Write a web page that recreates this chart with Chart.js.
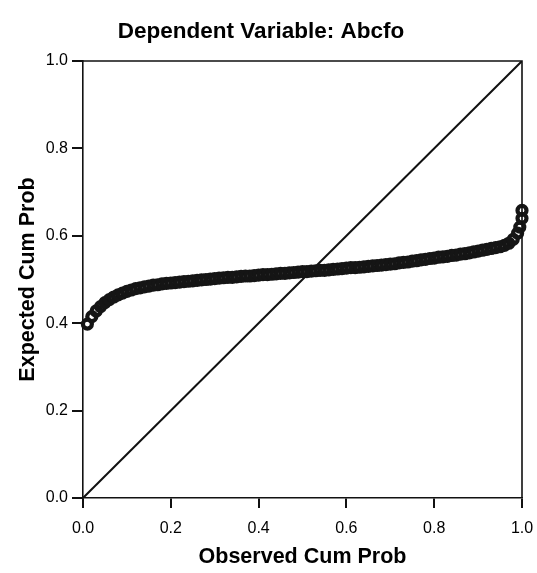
<!DOCTYPE html>
<html>
<head>
<meta charset="utf-8">
<script src="https://cdn.jsdelivr.net/npm/chart.js@4.4.1/dist/chart.umd.min.js"></script>
<style>
  html, body { margin: 0; padding: 0; background: #ffffff; }
  #wrap { width: 537px; height: 573px; }
</style>
</head>
<body>
<div id="wrap"><canvas id="c" width="537" height="573"></canvas></div>
<script>
// ---- data (P-P plot) ----
const chartTitle = 'Dependent Variable: Abcfo';
const xAxisTitle = 'Observed Cum Prob';
const yAxisTitle = 'Expected Cum Prob';
const xTickLabels = ['0.0', '0.2', '0.4', '0.6', '0.8', '1.0'];
const yTickLabels = ['0.0', '0.2', '0.4', '0.6', '0.8', '1.0'];

const observed = [
  0.01, 0.02, 0.03, 0.04, 0.05, 0.06, 0.07, 0.08, 0.09, 0.10,
  0.11, 0.12, 0.13, 0.14, 0.15, 0.16, 0.17, 0.18, 0.19, 0.20,
  0.21, 0.22, 0.23, 0.24, 0.25, 0.26, 0.27, 0.28, 0.29, 0.30,
  0.31, 0.32, 0.33, 0.34, 0.35, 0.36, 0.37, 0.38, 0.39, 0.40,
  0.41, 0.42, 0.43, 0.44, 0.45, 0.46, 0.47, 0.48, 0.49, 0.50,
  0.51, 0.52, 0.53, 0.54, 0.55, 0.56, 0.57, 0.58, 0.59, 0.60,
  0.61, 0.62, 0.63, 0.64, 0.65, 0.66, 0.67, 0.68, 0.69, 0.70,
  0.71, 0.72, 0.73, 0.74, 0.75, 0.76, 0.77, 0.78, 0.79, 0.80,
  0.81, 0.82, 0.83, 0.84, 0.85, 0.86, 0.87, 0.88, 0.89, 0.90,
  0.91, 0.92, 0.93, 0.94, 0.95, 0.96, 0.97, 0.98, 0.99, 0.995,
  1.00, 1.00
];
const expected = [
  0.398, 0.415, 0.428, 0.438, 0.447, 0.454, 0.460, 0.465, 0.469, 0.473,
  0.476, 0.479, 0.481, 0.483, 0.485, 0.487, 0.488, 0.490, 0.491, 0.492,
  0.493, 0.494, 0.495, 0.496, 0.497, 0.498, 0.499, 0.500, 0.501, 0.502,
  0.503, 0.504, 0.505, 0.505, 0.506, 0.507, 0.508, 0.508, 0.509, 0.510,
  0.511, 0.511, 0.512, 0.513, 0.514, 0.514, 0.515, 0.516, 0.517, 0.518,
  0.518, 0.519, 0.520, 0.521, 0.521, 0.522, 0.523, 0.524, 0.525, 0.526,
  0.527, 0.527, 0.528, 0.529, 0.530, 0.531, 0.532, 0.533, 0.534, 0.535,
  0.536, 0.538, 0.539, 0.540, 0.542, 0.543, 0.545, 0.546, 0.548, 0.549,
  0.551, 0.552, 0.553, 0.555, 0.556, 0.558, 0.559, 0.561, 0.563, 0.565,
  0.567, 0.569, 0.571, 0.573, 0.575, 0.578, 0.583, 0.592, 0.606, 0.620,
  0.640, 0.658
];
// reference diagonal (expected = observed)
const diagX = [0, 1];
const diagY = [0, 1];

// ---- build datasets ----
const points = observed.map((x, i) => ({ x: x, y: expected[i] }));
const diag = diagX.map((x, i) => ({ x: x, y: diagY[i] }));

const frame = {
  id: 'frame',
  afterDraw(chart) {
    const a = chart.chartArea, ctx = chart.ctx;
    ctx.save();
    ctx.strokeStyle = '#111';
    ctx.lineWidth = 1.6;
    ctx.beginPath();
    ctx.moveTo(a.left, a.top);
    ctx.lineTo(a.right, a.top);
    ctx.lineTo(a.right, a.bottom);
    ctx.stroke();
    ctx.restore();
  }
};

const bold = { family: "'Liberation Sans', Arial, sans-serif", weight: 'bold' };

new Chart(document.getElementById('c'), {
  type: 'scatter',
  data: {
    datasets: [
      {
        type: 'line',
        data: diag,
        borderColor: '#111',
        borderWidth: 2,
        pointRadius: 0,
        fill: false,
        tension: 0,
        order: 2
      },
      {
        data: points,
        pointStyle: 'circle',
        pointRadius: 4.5,
        pointBorderWidth: 4.2,
        pointBackgroundColor: 'rgba(0,0,0,0)',
        pointBorderColor: '#151515',
        clip: false,
        order: 1
      }
    ]
  },
  options: {
    responsive: false,
    devicePixelRatio: 1,
    animation: false,
    events: [],
    layout: { padding: { left: 0, right: 15, top: 0, bottom: 0 } },
    plugins: {
      legend: { display: false },
      tooltip: { enabled: false },
      title: {
        display: true,
        text: chartTitle,
        color: '#000',
        font: Object.assign({ size: 22.5, lineHeight: 1.2 }, bold),
        padding: { top: 18, bottom: 16 }
      }
    },
    scales: {
      x: {
        type: 'linear',
        min: 0, max: 1,
        afterFit(s) { s.height = 75; s.paddingLeft = 0; s.paddingRight = 0; },
        ticks: {
          stepSize: 0.2,
          color: '#000',
          padding: 11,
          font: { family: "'Liberation Sans', Arial, sans-serif", size: 16, lineHeight: 1.2 },
          callback: (v) => xTickLabels[Math.round(v * 5)]
        },
        grid: { display: true, drawOnChartArea: false, drawTicks: true, tickLength: 10, color: '#111', lineWidth: 2 },
        border: { display: true, color: '#111', width: 1.6 },
        title: {
          display: true, text: xAxisTitle, color: '#000',
          font: Object.assign({ size: 21.5, lineHeight: 1.2 }, bold),
          padding: { top: 0, bottom: 3 }
        }
      },
      y: {
        type: 'linear',
        min: 0, max: 1,
        afterFit(s) { s.width = 83; s.paddingTop = 0; s.paddingBottom = 0; },
        ticks: {
          stepSize: 0.2,
          color: '#000',
          padding: 4,
          font: { family: "'Liberation Sans', Arial, sans-serif", size: 16, lineHeight: 1.2 },
          callback: (v) => yTickLabels[Math.round(v * 5)]
        },
        grid: { display: true, drawOnChartArea: false, drawTicks: true, tickLength: 11, color: '#111', lineWidth: 2 },
        border: { display: true, color: '#111', width: 1.6 },
        title: {
          display: true, text: yAxisTitle, color: '#000',
          font: Object.assign({ size: 21.5, lineHeight: 1.2 }, bold),
          padding: { top: 15, bottom: 0 }
        }
      }
    }
  },
  plugins: [frame]
});
</script>
</body>
</html>
